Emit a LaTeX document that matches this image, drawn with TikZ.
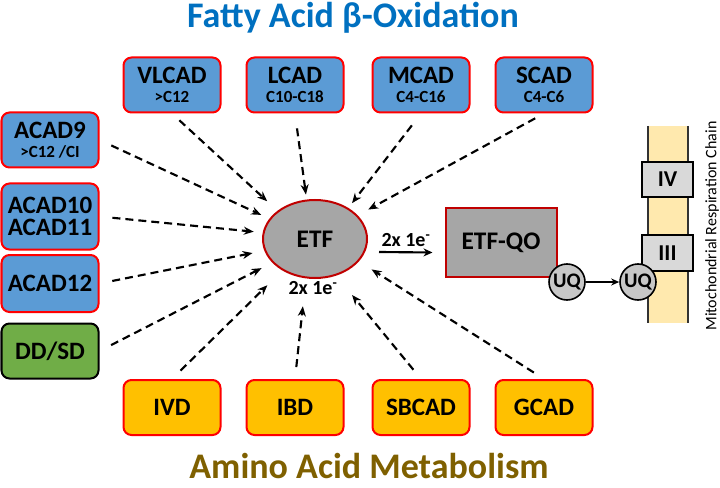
\documentclass[tikz,border=0pt]{standalone}
\usepackage{fontspec}
\setmainfont{Carlito}
\usepackage{xcolor}
\usepackage{tikz}
\usetikzlibrary{arrows.meta,positioning,shapes.geometric}
\definecolor{fablue}{HTML}{5B9BD5}
\definecolor{aaorange}{HTML}{FFC000}
\definecolor{ddgreen}{HTML}{70AD47}
\definecolor{etfred}{HTML}{C00000}
\definecolor{etfgray}{HTML}{A6A6A6}
\definecolor{titleblue}{HTML}{0070C0}
\definecolor{titlebrown}{HTML}{7F6000}
\definecolor{membrane}{HTML}{FFE9AE}
\newcommand\sublbl[1]{{\fontsize{12.75}{14}\selectfont #1}}
\tikzset{
  enzyme/.style={draw=red, line width=1.5pt, rounded corners=6pt, fill=fablue,
                 align=center, minimum width=72.75pt, minimum height=41.25pt, inner sep=0pt,
                 font=\fontsize{18.75}{17}\selectfont\bfseries},
  aaenz/.style={enzyme, fill=aaorange},
  feed/.style={-{Stealth[length=7.5pt, width=6pt]}, line width=1.6pt,
               dash pattern=on 6pt off 3.75pt},
  eflow/.style={-{Stealth[length=6.75pt, width=6pt]}, line width=1.6pt},
  elabel/.style={font=\fontsize{15}{18}\selectfont\bfseries, inner sep=0pt},
  complexbox/.style={draw, line width=1.2pt, fill=black!15, minimum width=38.25pt,
                     minimum height=26.25pt, inner sep=0pt, font=\fontsize{17}{20}\selectfont\bfseries},
  quinone/.style={circle, draw, line width=1.2pt, fill=black!22, minimum size=27pt,
                  inner sep=0pt, font=\fontsize{15.5}{18}\selectfont\bfseries},
}
\begin{document}
\begin{tikzpicture}[x=0.75pt, y=-0.75pt]
  \useasboundingbox (0,0) rectangle (720,488);
  % titles
  \node[titleblue, font=\fontsize{27}{30}\selectfont\bfseries] (fatitle) at (353,18) {Fatty Acid β-Oxidation};
  \node[titlebrown, anchor=base, inner sep=1pt, font=\fontsize{27}{30}\selectfont\bfseries] (aatitle) at (369,478) {Amino Acid Metabolism};

  % central carrier
  \node[ellipse, draw=etfred, fill=etfgray, line width=1.5pt, minimum width=78pt,
        minimum height=58.5pt, font=\fontsize{19}{22}\selectfont\bfseries] (etf) at (315,239) {ETF};
  \node[elabel] (elow) at (313,288) {2x 1e\textsuperscript{-}};

  % fatty acid lane
  \node[enzyme] (vlcad) at (172,85) {VLCAD\\[-3pt]\sublbl{>C12}};
  \node[enzyme, right=18pt of vlcad] (lcad) {LCAD\\[-3pt]\sublbl{C10-C18}};
  \node[enzyme, right=20.25pt of lcad] (mcad) {MCAD\\[-3pt]\sublbl{C4-C16}};
  \node[enzyme, right=18pt of mcad] (scad) {SCAD\\[-3pt]\sublbl{C4-C6}};
  \node[enzyme] (acad9) at (50,140) {ACAD9\\[-3pt]\sublbl{>C12 /CI}};
  \node[enzyme, minimum height=49.5pt] (acad10) at (50,216.5) {ACAD10\\ACAD11};
  \node[enzyme, minimum height=42.75pt] (acad12) at (50,283.5) {ACAD12};
  \node[enzyme, draw=black, fill=ddgreen] (ddsd) at (50,351) {DD/SD};

  % amino acid lane
  \node[aaenz] (ivd) at (172,407.5) {IVD};
  \node[aaenz, right=18pt of ivd] (ibd) {IBD};
  \node[aaenz, right=20.25pt of ibd] (sbcad) {SBCAD};
  \node[aaenz, right=18pt of sbcad] (gcad) {GCAD};

  \draw[feed, shorten <=7.5pt, shorten >=10.5pt] (vlcad.south) -- (etf.143);
  \draw[feed, shorten <=11.25pt, shorten >=3.75pt] (lcad.south) -- (etf.102);
  \draw[feed, shorten <=11.25pt, shorten >=4.5pt] (mcad.south) -- (etf.43);
  \draw[feed, shorten <=7.5pt, shorten >=9pt] (scad.south) -- (etf.29);
  \draw[feed, shorten <=9.75pt, shorten >=6.75pt] (acad9.east) -- (etf.156);
  \draw[feed, shorten <=9.75pt, shorten >=6.75pt] (acad10.east) -- (etf.173);
  \draw[feed, shorten <=9.75pt, shorten >=9pt] (acad12.east) -- (etf.193);
  \draw[feed, shorten <=9.75pt, shorten >=9pt] (ddsd.east) -- (etf.209);
  \draw[feed, shorten <=9pt, shorten >=15.75pt] (ivd.north) -- (etf.224);
  \draw[feed, shorten <=9pt, shorten >=21pt] (ibd.north) -- (etf.257);
  \draw[feed, shorten <=9pt, shorten >=18.75pt] (sbcad.north) -- (etf.300);
  \draw[feed, shorten <=9pt, shorten >=11.25pt] (gcad.north) -- (etf.333);

  % transfer to the respiration chain
  \node[draw=etfred, fill=etfgray, line width=1.5pt, minimum width=83.25pt, minimum height=51.75pt,
        font=\fontsize{19}{22}\selectfont\bfseries] (etfqo) at (501,242.5) {ETF-QO};
  \draw[eflow] ([xshift=8.25pt, yshift=-9.75pt]etf.east) -- ([xshift=-9pt, yshift=-7.5pt]etfqo.west);
  \node[elabel] (eup) at (406,240) {2x 1e\textsuperscript{-}};

  % membrane
  \fill[membrane] (648,126) rectangle (688,323);
  \draw[black!80, line width=1.2pt] (648,126) -- (648,323) (688,126) -- (688,323);
  \node[complexbox] (civ) at (667.5,179.5) {IV};
  \node[complexbox, minimum height=27pt] (ciii) at (667.5,253) {III};
  \node[quinone] (uq1) at (567,282) {UQ};
  \node[quinone] (uq2) at (638,282) {UQ};
  \draw[-{Stealth[length=6pt, width=5.25pt]}, line width=1.1pt] (uq1) -- (uq2);
  \node[rotate=90, font=\fontsize{12}{14}\selectfont] (mrc) at (712,226) {Mitochondrial Respiration Chain};
\end{tikzpicture}
\end{document}
